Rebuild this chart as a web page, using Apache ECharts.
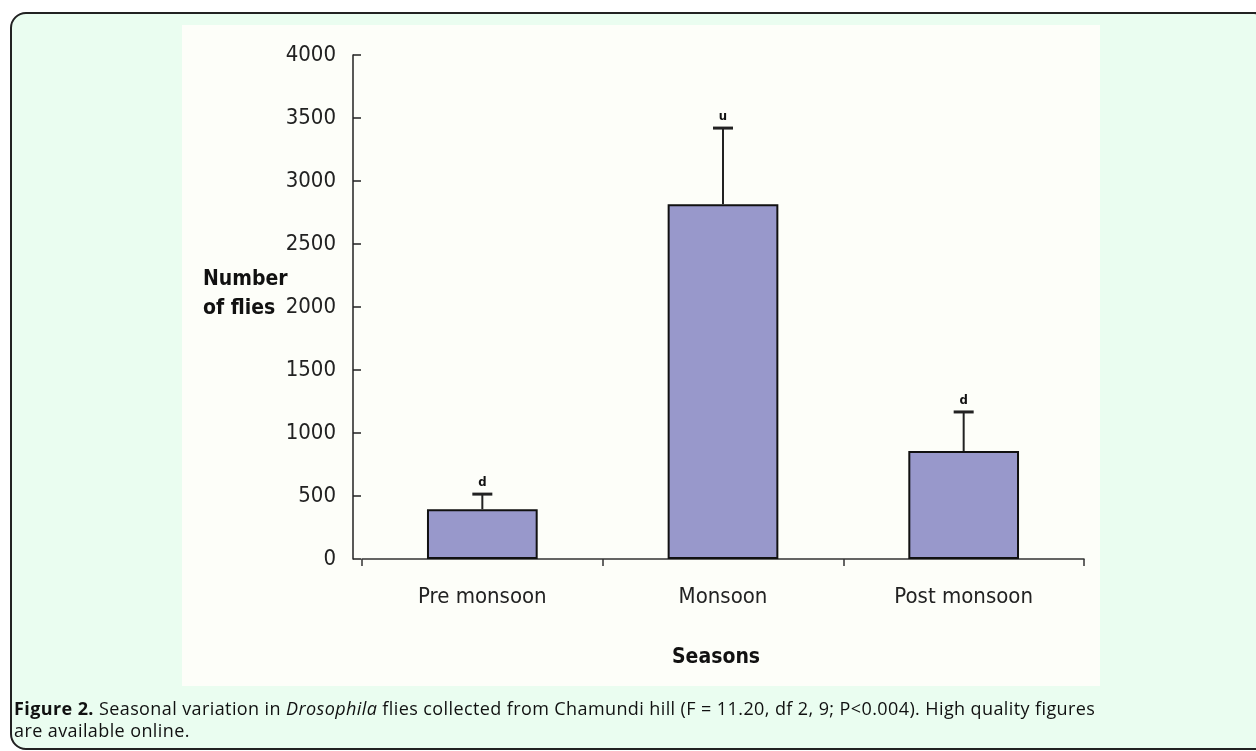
<!DOCTYPE html>
<html>
<head>
<meta charset="utf-8">
<script src="https://cdn.jsdelivr.net/npm/echarts@6/dist/echarts.min.js"></script>
<style>
  body { margin: 0; background: #fff; }
  .page { position: relative; width: 1256px; height: 751px; overflow: hidden; }
  .frame {
    position: absolute; left: 10px; top: 12px; width: 1260px; height: 738px;
    background: #eafdf0; border: 2px solid #222; border-radius: 16px; box-sizing: border-box;
  }
  .plot-bg { position: absolute; left: 182px; top: 25px; width: 918px; height: 661px; background: #fdfef9; }
  #chart { position: absolute; left: 0; top: 0; width: 1256px; height: 751px; }
  .caption {
    position: absolute; left: 14px; top: 697px; white-space: nowrap; letter-spacing: 0.4px;
    font-family: 'Open Sans', Lato, sans-serif; font-size: 18px; line-height: 22px; color: #111;
  }
</style>
</head>
<body>
<div class="page">
  <div class="frame"></div>
  <div class="plot-bg"></div>
  <div id="chart"></div>
  <div class="caption"><b>Figure 2.</b> Seasonal variation in <i>Drosophila</i> flies collected from Chamundi hill (F = 11.20, df 2, 9; P&lt;0.004). High quality figures<br>are available online.</div>
</div>
<script>
const seasons = ['Pre monsoon', 'Monsoon', 'Post monsoon']
const flies = [395, 2815, 857]
const upper = [515, 3420, 1167]
const letters = ['d', 'u', 'd']

const font = "'DejaVu Sans Condensed', 'Liberation Sans', sans-serif"
const chart = echarts.init(document.getElementById('chart'))

const errData = seasons.map((s, i) => [i, flies[i], upper[i]])

chart.setOption({
  animation: false,
  title: [
    {
      text: 'Number\nof flies',
      left: 198, top: 260,
      textStyle: { fontFamily: font, fontSize: 21, fontWeight: 'bold', color: '#111', lineHeight: 29 }
    },
    {
      text: 'Seasons',
      left: 667, top: 642,
      textStyle: { fontFamily: font, fontSize: 21, fontWeight: 'bold', color: '#111' }
    }
  ],
  grid: { left: 362, right: 172, top: 55, bottom: 192 },
  xAxis: {
    type: 'category',
    data: seasons,
    axisLine: { lineStyle: { color: '#333', width: 1.5 } },
    axisTick: { show: true, length: 7, lineStyle: { color: '#333', width: 1.5 } },
    axisLabel: { fontFamily: font, fontSize: 22, color: '#222', margin: 27 }
  },
  yAxis: {
    type: 'value',
    min: 0, max: 4000, interval: 500,
    offset: 9,
    splitLine: { show: false },
    axisLine: { show: true, lineStyle: { color: '#222', width: 1.5 } },
    axisTick: { show: true, inside: true, length: 8, lineStyle: { color: '#222', width: 1.5 } },
    axisLabel: { fontFamily: font, fontSize: 22, color: '#222', margin: 17, formatter: v => String(v) }
  },
  series: [
    {
      type: 'bar',
      data: flies,
      barWidth: '46%',
      itemStyle: { color: '#9898cb', borderColor: '#111', borderWidth: 2 }
    },
    {
      type: 'custom',
      data: errData,
      z: 5,
      renderItem(params, api) {
        const base = api.coord([api.value(0), api.value(1)])
        const top = api.coord([api.value(0), api.value(2)])
        const letter = letters[params.dataIndex]
        return {
          type: 'group',
          children: [
            { type: 'line', shape: { x1: base[0], y1: base[1], x2: top[0], y2: top[1] }, style: { stroke: '#222', lineWidth: 2 } },
            { type: 'line', shape: { x1: top[0] - 10, y1: top[1], x2: top[0] + 10, y2: top[1] }, style: { stroke: '#222', lineWidth: 3 } },
            { type: 'text', x: top[0], y: top[1] - 5, style: { text: letter, fill: '#111', font: 'bold 13px ' + font, align: 'center', verticalAlign: 'bottom' } }
          ]
        }
      }
    }
  ]
})
</script>
</body>
</html>
